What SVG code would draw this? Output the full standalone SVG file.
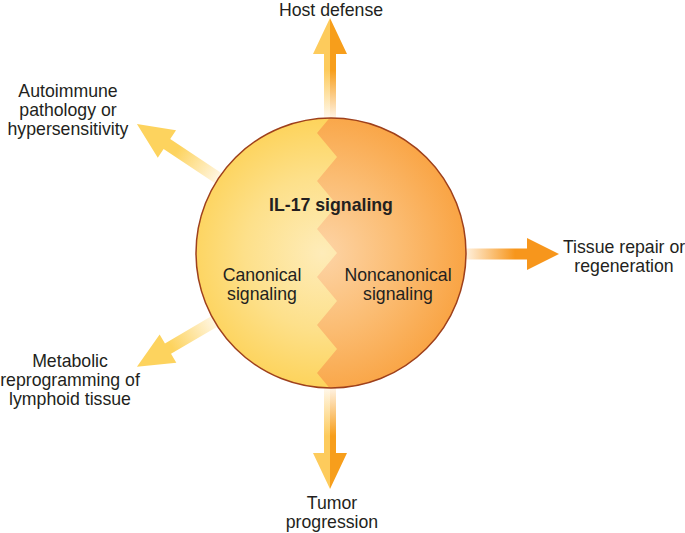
<svg xmlns="http://www.w3.org/2000/svg" width="685" height="533" viewBox="0 0 685 533">
<style>
text{font-family:"Liberation Sans",Arial,sans-serif;font-size:17.7px;fill:#231f20;text-anchor:middle}
.b{font-weight:bold}
</style>
<defs>
<radialGradient id="gL" gradientUnits="userSpaceOnUse" cx="322" cy="253" r="140">
<stop offset="0" stop-color="#feecb9"/><stop offset="0.55" stop-color="#fde08a"/><stop offset="1" stop-color="#fdd257"/>
</radialGradient>
<radialGradient id="gR" gradientUnits="userSpaceOnUse" cx="322" cy="253" r="150">
<stop offset="0" stop-color="#fdd4a6"/><stop offset="0.5" stop-color="#fbbd74"/><stop offset="1" stop-color="#f9a240"/>
</radialGradient>
<clipPath id="cc"><circle cx="331" cy="253" r="135"/></clipPath>
<linearGradient id="hY" gradientUnits="userSpaceOnUse" x1="0" y1="118" x2="0" y2="70"><stop offset="0" stop-color="#fff8ec"/><stop offset="1" stop-color="#fdcb5c"/></linearGradient>
<linearGradient id="hO" gradientUnits="userSpaceOnUse" x1="0" y1="118" x2="0" y2="70"><stop offset="0" stop-color="#fff3e4"/><stop offset="1" stop-color="#f79e1b"/></linearGradient>
<linearGradient id="tY" gradientUnits="userSpaceOnUse" x1="0" y1="388" x2="0" y2="436"><stop offset="0" stop-color="#fff8ec"/><stop offset="1" stop-color="#fdcb5c"/></linearGradient>
<linearGradient id="tO" gradientUnits="userSpaceOnUse" x1="0" y1="388" x2="0" y2="436"><stop offset="0" stop-color="#fff3e4"/><stop offset="1" stop-color="#f79e1b"/></linearGradient>
<linearGradient id="rO" gradientUnits="userSpaceOnUse" x1="466" y1="0" x2="515" y2="0"><stop offset="0" stop-color="#fff0dc"/><stop offset="1" stop-color="#f7961c"/></linearGradient>
<linearGradient id="dY" gradientUnits="userSpaceOnUse" x1="135" y1="0" x2="185" y2="0"><stop offset="0" stop-color="#fff6e2"/><stop offset="1" stop-color="#fdd35e"/></linearGradient>
</defs>
<g id="connectors">
<g id="arrow-host">
<polygon points="324,125 324,54 313,54 330,18 330,125" fill="url(#hY)"/>
<polygon points="330,125 330,18 347,54 336,54 336,125" fill="url(#hO)"/>
</g>
<g id="arrow-tumor">
<polygon points="324,380 324,453 313,453 330,489 330,380" fill="url(#tY)"/>
<polygon points="330,380 330,489 347,453 336,453 336,380" fill="url(#tO)"/>
</g>
<g id="arrow-tissue">
<polygon points="460,248.5 527,248.5 527,238 559,254 527,270 527,259.5 460,259.5" fill="url(#rO)"/>
</g>
<g id="arrow-autoimmune" transform="translate(331,253) rotate(213.6)">
<polygon points="128,-6 197,-6 197,-16.5 233,0 197,16.5 197,6 128,6" fill="url(#dY)"/>
</g>
<g id="arrow-metabolic" transform="translate(331,253) rotate(149.6)">
<polygon points="128,-6 189,-6 189,-16.5 225,0 189,16.5 189,6 128,6" fill="url(#dY)"/>
</g>
</g>
<g id="il17">
<circle cx="331" cy="253" r="135" fill="url(#gL)"/>
<polygon clip-path="url(#cc)" fill="url(#gR)" points="337,100 337,109 317,133 337,157 317,181 337,205 317,229 337,253 317,277 337,301 317,325 337,349 317,373 337,397 337,405 480,405 480,100"/>
<circle cx="331" cy="253" r="135" fill="none" stroke="#9e401c" stroke-width="1.5"/>
<text class="b" x="331" y="211">IL-17 signaling</text>
<text x="262" y="281">Canonical</text>
<text x="262" y="300">signaling</text>
<text x="398" y="281">Noncanonical</text>
<text x="398" y="300">signaling</text>
</g>
<g id="host"><text x="331" y="15.5">Host defense</text></g>
<g id="autoimmune"><text x="68" y="97">Autoimmune</text><text x="68" y="116">pathology or</text><text x="68" y="135">hypersensitivity</text></g>
<g id="tissue"><text x="624" y="253">Tissue repair or</text><text x="624" y="272">regeneration</text></g>
<g id="metabolic"><text x="70" y="367">Metabolic</text><text x="70" y="386">reprogramming of</text><text x="70" y="405">lymphoid tissue</text></g>
<g id="tumor"><text x="332" y="509">Tumor</text><text x="332" y="528">progression</text></g>
</svg>
